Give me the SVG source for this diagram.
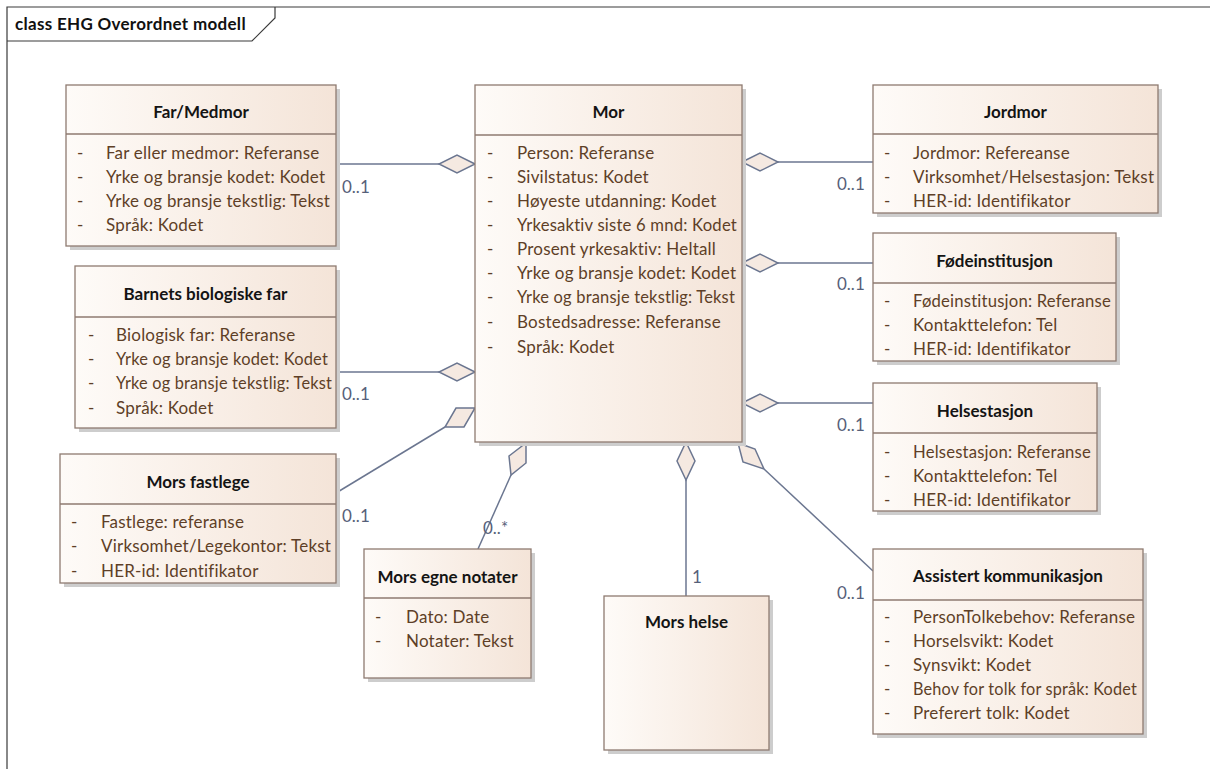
<svg xmlns="http://www.w3.org/2000/svg" width="1210" height="769" viewBox="0 0 1210 769">
<style>
.bg{fill:#ffffff}
.frame{fill:none;stroke:#3a3a3a;stroke-width:1.2}
.ftitle{font-family:Lato,"Liberation Sans",sans-serif;font-weight:bold;font-size:17px;letter-spacing:0.3px;fill:#111}
.shadow{fill:#cdcdcd}
.box{fill:url(#boxg);stroke:#8e7a70;stroke-width:1.3}
.div{stroke:#8e7a70;stroke-width:1.3}
.title{font-family:Lato,"Liberation Sans",sans-serif;font-weight:bold;font-size:17px;fill:#141414;text-anchor:middle}
.attr{font-family:Lato,"Liberation Sans",sans-serif;font-size:17px;letter-spacing:0.2px;fill:#5e3f27}
.mult{font-family:Lato,"Liberation Sans",sans-serif;font-size:17px;fill:#566079}
.conn{fill:none;stroke:#6b7690;stroke-width:1.5}
.dia{fill:#f5e9e1;stroke:#6b7690;stroke-width:1.5;stroke-linejoin:miter}
</style>
<defs>
<linearGradient id="boxg" x1="0" y1="0" x2="1" y2="0">
<stop offset="0" stop-color="#fefbf8"/>
<stop offset="1" stop-color="#f4e4d8"/>
</linearGradient>
</defs>
<rect class="bg" x="0" y="0" width="1210" height="769"/>
<g id="frame">
<path class="frame" d="M7,769 V7 H1210"/>
<path class="frame" d="M7,41 H252 L275,18 V7"/>
<text class="ftitle" x="15" y="30">class EHG Overordnet modell</text>
</g>

<g id="connectors">
<line class="conn" x1="336" y1="164" x2="439" y2="164"/>
<polygon class="dia" points="475,164 457,155 439,164 457,173"/>
<text class="mult" x="342" y="193">0..1</text>

<line class="conn" x1="336" y1="372" x2="439" y2="372"/>
<polygon class="dia" points="475,372 457,363 439,372 457,381"/>
<text class="mult" x="342" y="400">0..1</text>

<line class="conn" x1="336" y1="493" x2="445" y2="427"/>
<polygon class="dia" points="475,408 456,408 445,427 464,427"/>
<text class="mult" x="342" y="522">0..1</text>

<line class="conn" x1="478" y1="549" x2="511" y2="475"/>
<polygon class="dia" points="526,443 526,463 511,475 509,456"/>
<text class="mult" x="483" y="534">0..*</text>

<line class="conn" x1="686" y1="596" x2="686" y2="480"/>
<polygon class="dia" points="686,442 695,461 686,480 677,461"/>
<text class="mult" x="692" y="583">1</text>

<line class="conn" x1="873" y1="571" x2="764" y2="469"/>
<polygon class="dia" points="738,443 755,449 764,469 743,462"/>
<text class="mult" x="837" y="599">0..1</text>

<line class="conn" x1="778" y1="162" x2="873" y2="162"/>
<polygon class="dia" points="742,162 760,153 778,162 760,171"/>
<text class="mult" x="837" y="190">0..1</text>

<line class="conn" x1="778" y1="263" x2="873" y2="263"/>
<polygon class="dia" points="742,263 760,254 778,263 760,272"/>
<text class="mult" x="837" y="290">0..1</text>

<line class="conn" x1="778" y1="403" x2="873" y2="403"/>
<polygon class="dia" points="742,403 760,394 778,403 760,412"/>
<text class="mult" x="837" y="431">0..1</text>
</g>

<g id="far-medmor">
<rect class="shadow" x="70" y="89" width="270" height="161"/>
<rect class="box" x="66" y="85" width="270" height="161"/>
<line class="div" x1="66" y1="134" x2="336" y2="134"/>
<text class="title" x="201" y="118">Far/Medmor</text>
<text class="attr" x="77" y="159">-</text><text class="attr" x="106" y="159">Far eller medmor: Referanse</text>
<text class="attr" x="77" y="183">-</text><text class="attr" x="106" y="183">Yrke og bransje kodet: Kodet</text>
<text class="attr" x="77" y="207">-</text><text class="attr" x="106" y="207" textLength="224" lengthAdjust="spacingAndGlyphs">Yrke og bransje tekstlig: Tekst</text>
<text class="attr" x="77" y="231">-</text><text class="attr" x="106" y="231">Språk: Kodet</text>
</g>

<g id="barnets-biologiske-far">
<rect class="shadow" x="79" y="270" width="261" height="162"/>
<rect class="box" x="75" y="266" width="261" height="162"/>
<line class="div" x1="75" y1="317" x2="336" y2="317"/>
<text class="title" x="205.5" y="300">Barnets biologiske far</text>
<text class="attr" x="88" y="341">-</text><text class="attr" x="116" y="341">Biologisk far: Referanse</text>
<text class="attr" x="88" y="365">-</text><text class="attr" x="116" y="365" textLength="212" lengthAdjust="spacingAndGlyphs">Yrke og bransje kodet: Kodet</text>
<text class="attr" x="88" y="389">-</text><text class="attr" x="116" y="389" textLength="216" lengthAdjust="spacingAndGlyphs">Yrke og bransje tekstlig: Tekst</text>
<text class="attr" x="88" y="414">-</text><text class="attr" x="116" y="414">Språk: Kodet</text>
</g>

<g id="mors-fastlege">
<rect class="shadow" x="64" y="458" width="276" height="129"/>
<rect class="box" x="60" y="454" width="276" height="129"/>
<line class="div" x1="60" y1="504" x2="336" y2="504"/>
<text class="title" x="198" y="488">Mors fastlege</text>
<text class="attr" x="71" y="528">-</text><text class="attr" x="101" y="528">Fastlege: referanse</text>
<text class="attr" x="71" y="552">-</text><text class="attr" x="101" y="552">Virksomhet/Legekontor: Tekst</text>
<text class="attr" x="71" y="577">-</text><text class="attr" x="101" y="577">HER-id: Identifikator</text>
</g>

<g id="mor">
<rect class="shadow" x="479" y="89" width="267" height="357"/>
<rect class="box" x="475" y="85" width="267" height="357"/>
<line class="div" x1="475" y1="135" x2="742" y2="135"/>
<text class="title" x="608.5" y="118">Mor</text>
<text class="attr" x="487" y="159">-</text><text class="attr" x="517" y="159">Person: Referanse</text>
<text class="attr" x="487" y="183">-</text><text class="attr" x="517" y="183">Sivilstatus: Kodet</text>
<text class="attr" x="487" y="207">-</text><text class="attr" x="517" y="207">Høyeste utdanning: Kodet</text>
<text class="attr" x="487" y="231">-</text><text class="attr" x="517" y="231" textLength="220" lengthAdjust="spacingAndGlyphs">Yrkesaktiv siste 6 mnd: Kodet</text>
<text class="attr" x="487" y="255">-</text><text class="attr" x="517" y="255">Prosent yrkesaktiv: Heltall</text>
<text class="attr" x="487" y="279">-</text><text class="attr" x="517" y="279">Yrke og bransje kodet: Kodet</text>
<text class="attr" x="487" y="303">-</text><text class="attr" x="517" y="303" textLength="218" lengthAdjust="spacingAndGlyphs">Yrke og bransje tekstlig: Tekst</text>
<text class="attr" x="487" y="328">-</text><text class="attr" x="517" y="328">Bostedsadresse: Referanse</text>
<text class="attr" x="487" y="353">-</text><text class="attr" x="517" y="353">Språk: Kodet</text>
</g>

<g id="mors-egne-notater">
<rect class="shadow" x="368" y="553" width="167" height="129"/>
<rect class="box" x="364" y="549" width="167" height="129"/>
<line class="div" x1="364" y1="598" x2="531" y2="598"/>
<text class="title" x="447.5" y="583">Mors egne notater</text>
<text class="attr" x="375" y="623">-</text><text class="attr" x="406" y="623">Dato: Date</text>
<text class="attr" x="375" y="647">-</text><text class="attr" x="406" y="647">Notater: Tekst</text>
</g>

<g id="mors-helse">
<rect class="shadow" x="608" y="600" width="165" height="154"/>
<rect class="box" x="604" y="596" width="165" height="154"/>
<text class="title" x="686.5" y="628">Mors helse</text>
</g>

<g id="jordmor">
<rect class="shadow" x="877" y="89" width="285" height="128"/>
<rect class="box" x="873" y="85" width="285" height="128"/>
<line class="div" x1="873" y1="134" x2="1158" y2="134"/>
<text class="title" x="1015.5" y="118">Jordmor</text>
<text class="attr" x="884" y="159">-</text><text class="attr" x="913" y="159">Jordmor: Refereanse</text>
<text class="attr" x="884" y="183">-</text><text class="attr" x="913" y="183">Virksomhet/Helsestasjon: Tekst</text>
<text class="attr" x="884" y="207">-</text><text class="attr" x="913" y="207">HER-id: Identifikator</text>
</g>

<g id="fodeinstitusjon">
<rect class="shadow" x="877" y="237" width="243" height="128"/>
<rect class="box" x="873" y="233" width="243" height="128"/>
<line class="div" x1="873" y1="283" x2="1116" y2="283"/>
<text class="title" x="994.5" y="267">Fødeinstitusjon</text>
<text class="attr" x="884" y="307">-</text><text class="attr" x="913" y="307" textLength="198" lengthAdjust="spacingAndGlyphs">Fødeinstitusjon: Referanse</text>
<text class="attr" x="884" y="331">-</text><text class="attr" x="913" y="331">Kontakttelefon: Tel</text>
<text class="attr" x="884" y="355">-</text><text class="attr" x="913" y="355">HER-id: Identifikator</text>
</g>

<g id="helsestasjon">
<rect class="shadow" x="877" y="387" width="224" height="128"/>
<rect class="box" x="873" y="383" width="224" height="128"/>
<line class="div" x1="873" y1="433" x2="1097" y2="433"/>
<text class="title" x="985" y="417">Helsestasjon</text>
<text class="attr" x="884" y="458">-</text><text class="attr" x="913" y="458" textLength="178" lengthAdjust="spacingAndGlyphs">Helsestasjon: Referanse</text>
<text class="attr" x="884" y="482">-</text><text class="attr" x="913" y="482">Kontakttelefon: Tel</text>
<text class="attr" x="884" y="506">-</text><text class="attr" x="913" y="506">HER-id: Identifikator</text>
</g>

<g id="assistert-kommunikasjon">
<rect class="shadow" x="877" y="553" width="270" height="185"/>
<rect class="box" x="873" y="549" width="270" height="185"/>
<line class="div" x1="873" y1="600" x2="1143" y2="600"/>
<text class="title" x="1008" y="582">Assistert kommunikasjon</text>
<text class="attr" x="884" y="623">-</text><text class="attr" x="913" y="623">PersonTolkebehov: Referanse</text>
<text class="attr" x="884" y="647">-</text><text class="attr" x="913" y="647">Horselsvikt: Kodet</text>
<text class="attr" x="884" y="671">-</text><text class="attr" x="913" y="671">Synsvikt: Kodet</text>
<text class="attr" x="884" y="695">-</text><text class="attr" x="913" y="695" textLength="224" lengthAdjust="spacingAndGlyphs">Behov for tolk for språk: Kodet</text>
<text class="attr" x="884" y="719">-</text><text class="attr" x="913" y="719">Preferert tolk: Kodet</text>
</g>
</svg>
